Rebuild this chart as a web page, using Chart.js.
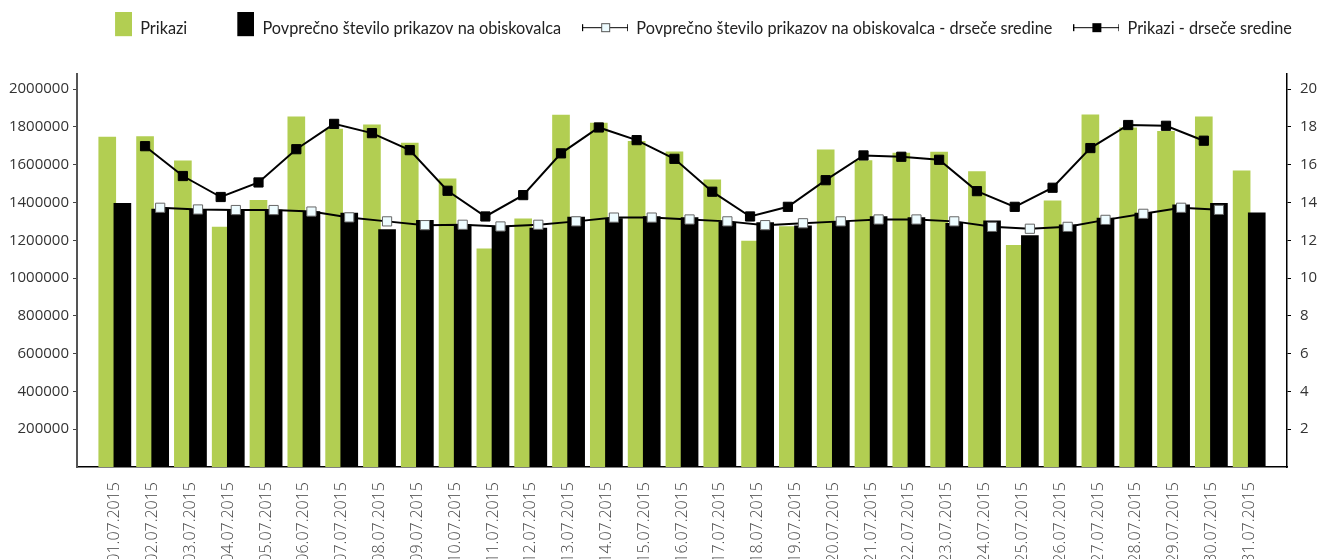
<!DOCTYPE html>
<html>
<head>
<meta charset="utf-8">
<script src="https://cdn.jsdelivr.net/npm/chart.js@4/dist/chart.umd.min.js"></script>
<style>
  body { margin: 0; background: #fff; }
</style>
</head>
<body>
<canvas id="myChart" width="1326" height="559"></canvas>
<script>
const dates = [
    '01.07.2015', '02.07.2015', '03.07.2015', '04.07.2015', '05.07.2015', '06.07.2015', '07.07.2015',
    '08.07.2015', '09.07.2015', '10.07.2015', '11.07.2015', '12.07.2015', '13.07.2015', '14.07.2015',
    '15.07.2015', '16.07.2015', '17.07.2015', '18.07.2015', '19.07.2015', '20.07.2015', '21.07.2015',
    '22.07.2015', '23.07.2015', '24.07.2015', '25.07.2015', '26.07.2015', '27.07.2015', '28.07.2015',
    '29.07.2015', '30.07.2015', '31.07.2015'
];

const leftTicks = [200000, 400000, 600000, 800000, 1000000, 1200000, 1400000, 1600000, 1800000, 2000000];
const rightTicks = [2, 4, 6, 8, 10, 12, 14, 16, 18, 20];

// Prikazi (left axis)
const prikazi = [
    1746000, 1749000, 1621000, 1270000, 1411000, 1853000, 1788000, 1811000, 1714000, 1525000,
    1155000, 1314000, 1862000, 1820000, 1723000, 1668000, 1520000, 1196000, 1273000, 1679000,
    1622000, 1661000, 1667000, 1564000, 1173000, 1409000, 1864000, 1795000, 1776000, 1853000,
    1568000
];

// Povprecno stevilo prikazov na obiskovalca (right axis)
const povprecno = [
    13.95, 13.65, 13.6, 13.6, 13.6, 13.52, 13.44, 12.56, 13.05, 12.82,
    12.73, 12.65, 13.23, 13.15, 13.25, 13.2, 12.95, 12.94, 12.77, 13.0,
    13.26, 13.2, 12.9, 13.03, 12.25, 12.82, 13.17, 13.44, 13.88, 13.95,
    13.45
];

// drsece sredine (no value on first and last day)
const povprecnoDrsece = [
    null, 13.72, 13.63, 13.6, 13.6, 13.52, 13.21, 13.0, 12.8, 12.82,
    12.73, 12.82, 13.0, 13.2, 13.2, 13.1, 13.0, 12.8, 12.9, 13.0,
    13.1, 13.1, 13.0, 12.71, 12.61, 12.71, 13.08, 13.4, 13.72, 13.61,
    null
];

const prikaziDrsece = [
    null, 1698000, 1540000, 1429000, 1506000, 1682000, 1816000, 1767000, 1677000, 1462000,
    1326000, 1439000, 1660000, 1797000, 1730000, 1631000, 1457000, 1326000, 1377000, 1518000,
    1649000, 1642000, 1626000, 1460000, 1377000, 1478000, 1688000, 1810000, 1806000, 1727000,
    null
];

const GREEN = '#b2ce52';
const SHIFT = 0.2; // green series sit left of the day, black series right

function points(values, shift) {
    const out = [];
    values.forEach((v, i) => {
        if (v !== null) out.push({ x: i + 1 + shift, y: v });
    });
    return out;
}

function barIcon(color) {
    const c = document.createElement('canvas');
    c.width = 46;
    c.height = 34;
    const ctx = c.getContext('2d');
    ctx.fillStyle = color;
    ctx.fillRect(29, 0, 17, 24);
    return c;
}

function lineIcon(fill, stroke) {
    const c = document.createElement('canvas');
    c.width = 46;
    c.height = 16;
    const ctx = c.getContext('2d');
    ctx.strokeStyle = '#000';
    ctx.lineWidth = 1;
    ctx.beginPath();
    ctx.moveTo(0, 6.5); ctx.lineTo(46, 6.5);
    ctx.moveTo(0.5, 3); ctx.lineTo(0.5, 10);
    ctx.moveTo(45.5, 3); ctx.lineTo(45.5, 10);
    ctx.stroke();
    ctx.fillStyle = fill;
    ctx.fillRect(19, 2, 9, 9);
    ctx.strokeStyle = stroke;
    ctx.strokeRect(19.5, 2.5, 8, 8);
    return c;
}

const legendIcons = [
    barIcon(GREEN),
    barIcon('#000'),
    lineIcon('#eefcff', '#555'),
    lineIcon('#000', '#000')
];

const tickFont = { family: 'Open Sans', size: 15 };

// fixed legend height so the plot starts where the original does,
// and the legend row sits a bit right of centre like the original
const legendPlace = {
    id: 'legendPlace',
    beforeInit(chart) {
        const fit = chart.legend.fit;
        chart.legend.fit = function () {
            fit.bind(chart.legend)();
            this.height = 74;
        };
    },
    afterLayout(chart) {
        chart.legend.left += 26;
        chart.legend.right += 26;
    }
};

new Chart(document.getElementById('myChart'), {
    type: 'bar',
    data: {
        datasets: [
            {
                type: 'bar',
                label: 'Prikazi',
                data: points(prikazi, -SHIFT),
                backgroundColor: GREEN,
                barThickness: 17,
                grouped: false,
                yAxisID: 'y',
                order: 2
            },
            {
                type: 'bar',
                label: 'Povprečno število prikazov na obiskovalca',
                data: points(povprecno, SHIFT),
                backgroundColor: '#000',
                barThickness: 17,
                grouped: false,
                yAxisID: 'y1',
                order: 1
            },
            {
                type: 'line',
                label: 'Povprečno število prikazov na obiskovalca - drseče sredine',
                data: points(povprecnoDrsece, SHIFT),
                borderColor: '#000',
                borderWidth: 2,
                pointStyle: 'rect',
                pointRadius: 6.5,
                pointBackgroundColor: '#eefcff',
                pointBorderColor: '#666',
                pointBorderWidth: 1,
                tension: 0,
                yAxisID: 'y1',
                order: 0
            },
            {
                type: 'line',
                label: 'Prikazi - drseče sredine',
                data: points(prikaziDrsece, -SHIFT),
                borderColor: '#000',
                borderWidth: 2,
                pointStyle: 'rect',
                pointRadius: 6.5,
                pointBackgroundColor: '#000',
                pointBorderColor: '#000',
                pointBorderWidth: 1,
                tension: 0,
                yAxisID: 'y',
                order: 0
            }
        ]
    },
    options: {
        responsive: false,
        animation: false,
        plugins: {
            tooltip: { enabled: false },
            legend: {
                position: 'top',
                labels: {
                    usePointStyle: true,
                    pointStyleWidth: 46,
                    padding: 21,
                    color: '#222',
                    font: { family: 'Lato', size: 16.3 },
                    sort: (a, b) => a.datasetIndex - b.datasetIndex,
                    generateLabels(chart) {
                        const items = Chart.defaults.plugins.legend.labels.generateLabels(chart);
                        items.forEach(item => { item.pointStyle = legendIcons[item.datasetIndex]; });
                        return items;
                    }
                }
            }
        },
        scales: {
            x: {
                type: 'linear',
                offset: false,
                min: 0,
                max: 32,
                ticks: {
                    stepSize: 1,
                    autoSkip: false,
                    maxRotation: 90,
                    minRotation: 90,
                    padding: 15,
                    color: '#444',
                    font: { family: 'Open Sans', size: 16, weight: 300 },
                    callback: v => dates[v - 1] || ''
                },
                grid: { display: false, drawTicks: false, offset: false },
                border: { display: true, color: '#000', width: 1.5 },
                afterFit(scale) { scale.height = 92; }
            },
            y: {
                position: 'left',
                min: 0,
                max: 2080000,
                afterBuildTicks(scale) { scale.ticks = leftTicks.map(v => ({ value: v })); },
                ticks: {
                    padding: 4,
                    color: '#333',
                    font: tickFont,
                    callback: v => String(v)
                },
                grid: { drawOnChartArea: false, tickLength: 4, color: '#444' },
                border: { color: '#555', width: 2 },
                afterFit(scale) { scale.width = 77; }
            },
            y1: {
                position: 'right',
                min: 0,
                max: 20.8,
                afterBuildTicks(scale) { scale.ticks = rightTicks.map(v => ({ value: v })); },
                ticks: {
                    padding: 9,
                    color: '#333',
                    font: tickFont,
                    callback: v => String(v)
                },
                grid: { drawOnChartArea: false, tickLength: 4, color: '#000' },
                border: { color: '#000', width: 1.5 },
                afterFit(scale) { scale.width = 39; }
            }
        }
    },
    plugins: [legendPlace]
});
</script>
</body>
</html>
